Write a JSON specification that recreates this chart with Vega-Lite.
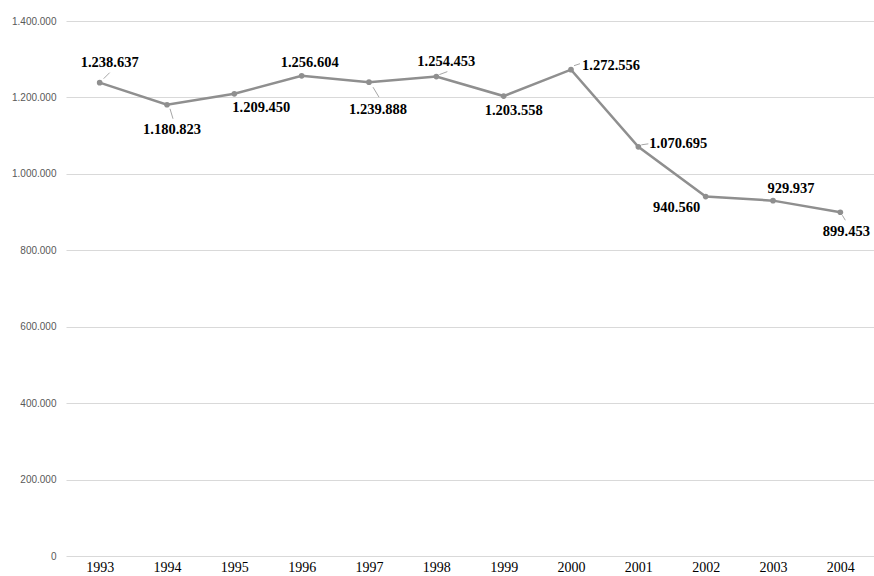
{
  "$schema": "https://vega.github.io/schema/vega-lite/v6.json",
  "width": 808,
  "height": 535,
  "autosize": {"type": "none"},
  "padding": {"left": 66, "top": 21, "right": 0, "bottom": 20},
  "background": "white",
  "config": {
    "locale": {"number": {"decimal": ",", "thousands": ".", "grouping": [3], "currency": ["", ""]}},
    "view": {"stroke": null}
  },
  "data": {
    "values": [
      {"year": "1993", "value": 1238637},
      {"year": "1994", "value": 1180823},
      {"year": "1995", "value": 1209450},
      {"year": "1996", "value": 1256604},
      {"year": "1997", "value": 1239888},
      {"year": "1998", "value": 1254453},
      {"year": "1999", "value": 1203558},
      {"year": "2000", "value": 1272556},
      {"year": "2001", "value": 1070695},
      {"year": "2002", "value": 940560},
      {"year": "2003", "value": 929937},
      {"year": "2004", "value": 899453}
    ]
  },
  "encoding": {
    "x": {
      "field": "year", "type": "ordinal",
      "scale": {"type": "point", "padding": 0.5},
      "axis": {"title": null, "domain": false, "ticks": false, "labelAngle": 0, "labelFont": "Liberation Serif", "labelFontSize": 14, "labelColor": "#000000", "labelPadding": 4, "grid": false}
    },
    "y": {
      "field": "value", "type": "quantitative",
      "scale": {"domain": [0, 1400000], "nice": false},
      "axis": {"title": null, "domain": false, "ticks": false, "values": [0, 200000, 400000, 600000, 800000, 1000000, 1200000, 1400000], "format": ",d", "labelFont": "Liberation Sans", "labelFontSize": 10, "labelColor": "#595959", "labelPadding": 10, "gridColor": "#d9d9d9", "gridWidth": 1}
    }
  },
  "layer": [
    {"mark": {"type": "line", "color": "#8f8f8f", "strokeWidth": 2.5}},
    {"mark": {"type": "point", "filled": true, "color": "#8f8f8f", "size": 32, "opacity": 1}},
    {"transform": [{"filter": "datum.year == '1993'"}], "mark": {"type": "rule", "color": "#a6a6a6", "strokeWidth": 1, "xOffset": 4, "yOffset": -4, "x2Offset": 10, "y2Offset": -10}, "encoding": {"x2": {"field": "year"}, "y2": {"field": "value"}}},
    {"transform": [{"filter": "datum.year == '1994'"}], "mark": {"type": "rule", "color": "#a6a6a6", "strokeWidth": 1, "xOffset": 3, "yOffset": 4, "x2Offset": 6, "y2Offset": 14}, "encoding": {"x2": {"field": "year"}, "y2": {"field": "value"}}},
    {"transform": [{"filter": "datum.year == '1997'"}], "mark": {"type": "rule", "color": "#a6a6a6", "strokeWidth": 1, "xOffset": 4, "yOffset": 5, "x2Offset": 10, "y2Offset": 15}, "encoding": {"x2": {"field": "year"}, "y2": {"field": "value"}}},
    {"transform": [{"filter": "datum.year == '1998'"}], "mark": {"type": "rule", "color": "#a6a6a6", "strokeWidth": 1, "xOffset": 3, "yOffset": -2, "x2Offset": 11, "y2Offset": -5}, "encoding": {"x2": {"field": "year"}, "y2": {"field": "value"}}},
    {"transform": [{"filter": "datum.year == '2000'"}], "mark": {"type": "rule", "color": "#a6a6a6", "strokeWidth": 1, "xOffset": 3, "yOffset": -4, "x2Offset": 9, "y2Offset": -6}, "encoding": {"x2": {"field": "year"}, "y2": {"field": "value"}}},
    {"transform": [{"filter": "datum.year == '2001'"}], "mark": {"type": "rule", "color": "#a6a6a6", "strokeWidth": 1, "xOffset": 3, "yOffset": -2, "x2Offset": 10, "y2Offset": -3}, "encoding": {"x2": {"field": "year"}, "y2": {"field": "value"}}},
    {"transform": [{"filter": "datum.year == '2004'"}], "mark": {"type": "rule", "color": "#a6a6a6", "strokeWidth": 1, "xOffset": 2, "yOffset": 3, "x2Offset": 5, "y2Offset": 8}, "encoding": {"x2": {"field": "year"}, "y2": {"field": "value"}}},
    {"transform": [{"filter": "datum.year == '1993'"}], "mark": {"type": "text", "font": "Liberation Serif", "fontWeight": "bold", "fontSize": 14.5, "color": "#000000", "dx": 10, "dy": -20}, "encoding": {"text": {"field": "value", "type": "quantitative", "format": ",d"}}},
    {"transform": [{"filter": "datum.year == '1994'"}], "mark": {"type": "text", "font": "Liberation Serif", "fontWeight": "bold", "fontSize": 14.5, "color": "#000000", "dx": 5, "dy": 25}, "encoding": {"text": {"field": "value", "type": "quantitative", "format": ",d"}}},
    {"transform": [{"filter": "datum.year == '1995'"}], "mark": {"type": "text", "font": "Liberation Serif", "fontWeight": "bold", "fontSize": 14.5, "color": "#000000", "dx": 27, "dy": 14}, "encoding": {"text": {"field": "value", "type": "quantitative", "format": ",d"}}},
    {"transform": [{"filter": "datum.year == '1996'"}], "mark": {"type": "text", "font": "Liberation Serif", "fontWeight": "bold", "fontSize": 14.5, "color": "#000000", "dx": 8, "dy": -13}, "encoding": {"text": {"field": "value", "type": "quantitative", "format": ",d"}}},
    {"transform": [{"filter": "datum.year == '1997'"}], "mark": {"type": "text", "font": "Liberation Serif", "fontWeight": "bold", "fontSize": 14.5, "color": "#000000", "dx": 9, "dy": 28}, "encoding": {"text": {"field": "value", "type": "quantitative", "format": ",d"}}},
    {"transform": [{"filter": "datum.year == '1998'"}], "mark": {"type": "text", "font": "Liberation Serif", "fontWeight": "bold", "fontSize": 14.5, "color": "#000000", "dx": 10, "dy": -15}, "encoding": {"text": {"field": "value", "type": "quantitative", "format": ",d"}}},
    {"transform": [{"filter": "datum.year == '1999'"}], "mark": {"type": "text", "font": "Liberation Serif", "fontWeight": "bold", "fontSize": 14.5, "color": "#000000", "dx": 10, "dy": 15}, "encoding": {"text": {"field": "value", "type": "quantitative", "format": ",d"}}},
    {"transform": [{"filter": "datum.year == '2000'"}], "mark": {"type": "text", "font": "Liberation Serif", "fontWeight": "bold", "fontSize": 14.5, "color": "#000000", "dx": 40, "dy": -4}, "encoding": {"text": {"field": "value", "type": "quantitative", "format": ",d"}}},
    {"transform": [{"filter": "datum.year == '2001'"}], "mark": {"type": "text", "font": "Liberation Serif", "fontWeight": "bold", "fontSize": 14.5, "color": "#000000", "dx": 40, "dy": -3}, "encoding": {"text": {"field": "value", "type": "quantitative", "format": ",d"}}},
    {"transform": [{"filter": "datum.year == '2002'"}], "mark": {"type": "text", "font": "Liberation Serif", "fontWeight": "bold", "fontSize": 14.5, "color": "#000000", "dx": -29, "dy": 11}, "encoding": {"text": {"field": "value", "type": "quantitative", "format": ",d"}}},
    {"transform": [{"filter": "datum.year == '2003'"}], "mark": {"type": "text", "font": "Liberation Serif", "fontWeight": "bold", "fontSize": 14.5, "color": "#000000", "dx": 18, "dy": -12}, "encoding": {"text": {"field": "value", "type": "quantitative", "format": ",d"}}},
    {"transform": [{"filter": "datum.year == '2004'"}], "mark": {"type": "text", "font": "Liberation Serif", "fontWeight": "bold", "fontSize": 14.5, "color": "#000000", "dx": 6, "dy": 20}, "encoding": {"text": {"field": "value", "type": "quantitative", "format": ",d"}}}
  ]
}
